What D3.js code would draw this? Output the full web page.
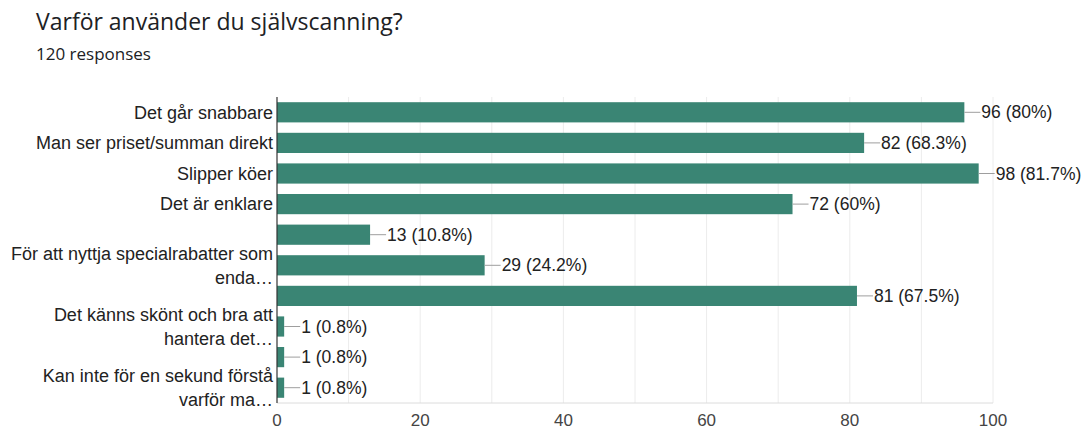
<!DOCTYPE html>
<html>
<head>
<meta charset="utf-8">
<script src="https://cdn.jsdelivr.net/npm/d3@7"></script>
<style>
  body { margin: 0; background: #fff; font-family: "Liberation Sans", Arial, sans-serif; }
</style>
</head>
<body>
<div id="chart"></div>
<script>
var title = "Varför använder du självscanning?";
var subtitle = "120 responses";

// hidden labels in the original are kept as empty strings
var labels = [
  ["Det går snabbare"],
  ["Man ser priset/summan direkt"],
  ["Slipper köer"],
  ["Det är enklare"],
  [],
  ["För att nyttja specialrabatter som", "enda…"],
  [],
  ["Det känns skönt och bra att", "hantera det…"],
  [],
  ["Kan inte för en sekund förstå", "varför ma…"]
];
var counts = [96, 82, 98, 72, 13, 29, 81, 1, 1, 1];
var percents = ["80%", "68.3%", "81.7%", "60%", "10.8%", "24.2%", "67.5%", "0.8%", "0.8%", "0.8%"];
var xTicks = [0, 20, 40, 60, 80, 100];
var gridTicks = [10, 20, 30, 40, 50, 60, 70, 80, 90, 100];

var width = 1085, height = 430;
var margin = {top: 97, right: 92, bottom: 27, left: 277};

var svg = d3.select("#chart")
  .append("svg")
  .attr("width", width)
  .attr("height", height);

svg.append("text")
  .attr("x", 36)
  .attr("y", 30)
  .attr("fill", "#202124")
  .style("font-family", "'Open Sans', sans-serif")
  .style("font-size", "23px")
  .text(title);

svg.append("text")
  .attr("x", 36)
  .attr("y", 60)
  .attr("fill", "#202124")
  .style("font-family", "'Open Sans', sans-serif")
  .style("font-size", "17px")
  .text(subtitle);

var x = d3.scaleLinear()
  .domain([0, 100])
  .range([margin.left, width - margin.right]);

var y = d3.scaleBand()
  .domain(d3.range(counts.length))
  .range([margin.top, height - margin.bottom])
  .paddingInner(0.34)
  .paddingOuter(0.17);

// gridlines
svg.selectAll(".grid")
  .data(gridTicks)
  .enter()
  .append("line")
  .attr("x1", function(d) { return x(d); })
  .attr("x2", function(d) { return x(d); })
  .attr("y1", margin.top)
  .attr("y2", height - margin.bottom)
  .attr("stroke", "#ececec")
  .attr("stroke-width", 1);

// baseline
svg.append("line")
  .attr("x1", x(0))
  .attr("x2", x(100))
  .attr("y1", height - margin.bottom)
  .attr("y2", height - margin.bottom)
  .attr("stroke", "#dcdcdc");

svg.selectAll(".bar")
  .data(counts)
  .enter()
  .append("rect")
  .attr("x", x(0))
  .attr("y", function(d, i) { return y(i); })
  .attr("width", function(d) { return x(d) - x(0); })
  .attr("height", y.bandwidth())
  .attr("fill", "#3a8574");

// leader lines and value labels
svg.selectAll(".lead")
  .data(counts)
  .enter()
  .append("line")
  .attr("x1", function(d) { return x(d); })
  .attr("x2", function(d) { return x(d) + 16; })
  .attr("y1", function(d, i) { return y(i) + y.bandwidth() / 2; })
  .attr("y2", function(d, i) { return y(i) + y.bandwidth() / 2; })
  .attr("stroke", "#9e9e9e")
  .attr("stroke-width", 1);

svg.selectAll(".val")
  .data(counts)
  .enter()
  .append("text")
  .attr("x", function(d) { return x(d) + 17; })
  .attr("y", function(d, i) { return y(i) + y.bandwidth() / 2; })
  .attr("dy", "0.35em")
  .attr("fill", "#222")
  .style("font-size", "17.5px")
  .text(function(d, i) { return d + " (" + percents[i] + ")"; });

// category labels
var lab = svg.selectAll(".lab")
  .data(labels)
  .enter()
  .append("text")
  .attr("text-anchor", "end")
  .attr("fill", "#222")
  .style("font-size", "18px")
  .attr("y", function(d, i) { return y(i) + y.bandwidth() / 2; });

lab.selectAll("tspan")
  .data(function(d) { return d; })
  .enter()
  .append("tspan")
  .attr("x", x(0) - 4)
  .attr("dy", function(d, j, nodes) {
    var n = nodes.length;
    if (j === 0) return (0.35 - (n - 1) * 0.67) + "em";
    return "1.34em";
  })
  .text(function(d) { return d; });

// left axis line
svg.append("line")
  .attr("x1", x(0))
  .attr("x2", x(0))
  .attr("y1", margin.top)
  .attr("y2", height - margin.bottom)
  .attr("stroke", "#333")
  .attr("stroke-width", 1.2);

// x tick labels
svg.selectAll(".tick")
  .data(xTicks)
  .enter()
  .append("text")
  .attr("x", function(d) { return x(d); })
  .attr("y", 426)
  .attr("text-anchor", "middle")
  .attr("fill", "#444")
  .style("font-size", "17px")
  .text(function(d) { return d; });
</script>
</body>
</html>
